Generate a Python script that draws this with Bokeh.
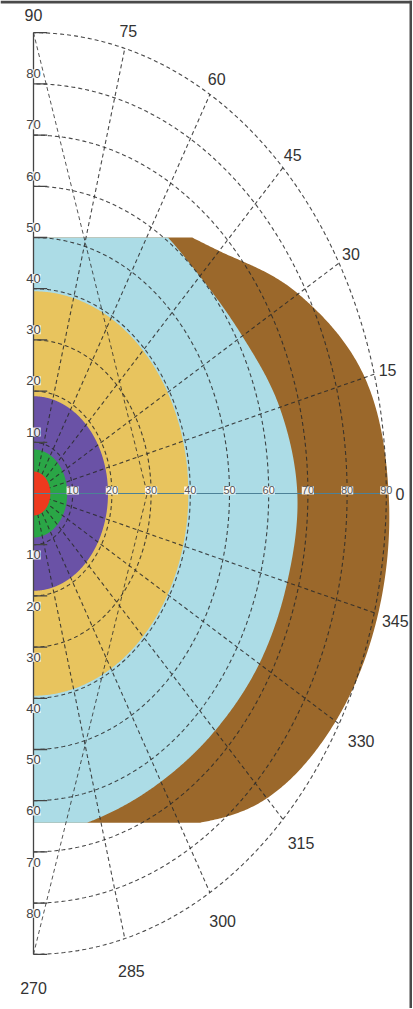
import numpy as np
from bokeh.plotting import figure
from bokeh.models import ColumnDataSource, LabelSet, Range1d, BoxAnnotation
from bokeh.core.properties import value
from bokeh.embed import file_html
from bokeh.resources import INLINE

# ---------------- data ----------------
ring_values = [10, 20, 30, 40, 50, 60, 70, 80, 90]
spoke_angles = [-75, -60, -45, -30, -15, 15, 30, 45, 60, 75]
label_angles = [-90, -75, -60, -45, -30, -15, 0, 15, 30, 45, 60, 75, 90]
angle_labels = ["270", "285", "300", "315", "330", "345", "0", "15", "30", "45", "60", "75", "90"]
axis_tick_labels = ["10", "20", "30", "40", "50", "60", "70", "80"]
zero_axis_labels = ["10", "20", "30", "40", "50", "60", "70", "80", "90"]

# circular zones (radius)
red_r = 4.3
green_r = 8.6
purple_r = 19.0
yellow_r = 39.5

# irregular zones: radius read at every 15 degrees, from 270 (-90) to 90
profile_angles = [-90, -75, -60, -45, -30, -15, 0, 15, 30, 45, 60, 75, 90]
blue_r = [67.0, 65.5, 65.0, 65.5, 66.5, 67.0, 67.3, 65.0, 61.5, 60.0, 61.0, 62.0, 62.0]
brown_r = [66.0, 68.0, 75.0, 84.2, 89.0, 91.0, 90.6, 87.5, 78.0, 67.0, 62.0, 62.0, 62.0]
zone_top = 50.0
zone_bottom = -64.3
pole_line_meet = 29.0

colors = {"red": "#ee3a1e", "green": "#2aa646", "purple": "#6a52a6",
          "yellow": "#e8c45e", "blue": "#acdce6", "brown": "#9b682b"}

# ---------------- geometry helpers ----------------
t = np.linspace(-90, 90, 721)
tr = np.radians(t)


def smooth(angles, radii):
    """Catmull-Rom curve through the read radii (drawing only)."""
    a = np.asarray(angles, float)
    r = np.asarray(radii, float)
    re = np.concatenate([[2 * r[0] - r[1]], r, [2 * r[-1] - r[-2]]])
    out = np.empty_like(t)
    for k, tv in enumerate(t):
        i = min(int(np.searchsorted(a, tv, side="right")) - 1, len(a) - 2)
        i = max(i, 0)
        u = (tv - a[i]) / (a[i + 1] - a[i])
        p0, p1, p2, p3 = re[i], re[i + 1], re[i + 2], re[i + 3]
        out[k] = 0.5 * (2 * p1 + (-p0 + p2) * u + (2 * p0 - 5 * p1 + 4 * p2 - p3) * u ** 2
                        + (-p0 + 3 * p1 - 3 * p2 + p3) * u ** 3)
    return out


def zone(angles, radii, top=None, bottom=None):
    r = smooth(angles, radii)
    x = r * np.cos(tr)
    y = r * np.sin(tr)
    if top is not None:
        y = np.minimum(y, top)
    if bottom is not None:
        y = np.maximum(y, bottom)
    return list(x), list(y)


def half_circle(r):
    return list(r * np.cos(tr)), list(r * np.sin(tr))


# ---------------- figure ----------------
W, H = 412, 1008
cx, cy = 33, 493          # pixel position of the pole
sx, sy = 3.92, 5.12       # pixels per unit
x0 = -cx / sx
x1 = x0 + W / sx
y1 = cy / sy
y0 = y1 - H / sy
p = figure(width=W, height=H,
           x_range=Range1d(x0, x1), y_range=Range1d(y0, y1),
           output_backend="svg", toolbar_location=None, min_border=0,
           x_axis_type=None, y_axis_type=None)
p.grid.visible = False
p.outline_line_color = None
p.background_fill_color = "white"
p.border_fill_color = "white"

zs_x, zs_y, zs_c = [], [], []
for key, shape in [("brown", zone(profile_angles, brown_r, zone_top, zone_bottom)),
                   ("blue", zone(profile_angles, blue_r, zone_top, zone_bottom)),
                   ("yellow", half_circle(yellow_r)),
                   ("purple", half_circle(purple_r)),
                   ("green", half_circle(green_r))]:
    zs_x.append(shape[0])
    zs_y.append(shape[1])
    zs_c.append(colors[key])
p.patches(zs_x, zs_y, fill_color=zs_c, line_color=None)

# rings
ring_xs, ring_ys = [], []
for rv in ring_values:
    xs, ys = half_circle(rv)
    ring_xs.append(xs)
    ring_ys.append(ys)
p.multi_line(ring_xs, ring_ys, line_color="#2a2a2a", line_width=1.1,
             line_dash="4 3", line_alpha=0.85)

# spokes
sp_xs = [[0, 90 * np.cos(np.radians(a))] for a in spoke_angles]
sp_ys = [[0, 90 * np.sin(np.radians(a))] for a in spoke_angles]
p.multi_line(sp_xs, sp_ys, line_color="#2a2a2a", line_width=1.1,
             line_dash="4 3", line_alpha=0.85)

# lines from the poles
p.multi_line([[0, pole_line_meet], [0, pole_line_meet]], [[90, 0], [-90, 0]],
             line_color="#2a2a2a", line_width=1.0, line_dash="4 3", line_alpha=0.8)

# innermost red zone drawn over the grid
rx, ry = half_circle(red_r)
p.patch(rx, ry, fill_color=colors["red"], line_color=None)

# zero axis
p.line([0, 90], [0, 0], line_color="#4d8197", line_width=1.2)

# vertical axis + ticks
p.line([0, 0], [-90, 90], line_color="#444444", line_width=1.3)
tick_y = [v for v in ring_values] + [-v for v in ring_values]
p.multi_line([[0, 3.5] for _ in tick_y], [[v, v] for v in tick_y],
             line_color="#444444", line_width=1.3)

# ---------------- labels ----------------
la = np.radians(label_angles)
lr = [93.5 if a >= 0 else 96.5 for a in label_angles]
x_limit = 92.3   # keep the lower labels clear of the right edge
lx = []
for r, a, deg in zip(lr, la, label_angles):
    xv = r * np.cos(a)
    if deg < 0:
        xv = min(xv, x_limit)
    lx.append(xv)
ang_src = ColumnDataSource(dict(x=lx,
                                y=[r * np.sin(a) for r, a in zip(lr, la)],
                                text=angle_labels))
p.add_layout(LabelSet(x="x", y="y", text="text", source=ang_src,
                      text_align="center", text_baseline="middle",
                      text_font=value("Liberation Sans"), text_font_size="16px",
                      text_color="#333333"))

tick_vals = [int(s) for s in axis_tick_labels]
ax_src = ColumnDataSource(dict(
    x=[0.0] * (2 * len(tick_vals)),
    y=[v + 2.0 for v in tick_vals] + [-(v + 2.0) for v in tick_vals],
    text=axis_tick_labels + axis_tick_labels))
p.add_layout(LabelSet(x="x", y="y", text="text", source=ax_src,
                      text_align="center", text_baseline="middle",
                      text_font=value("Liberation Sans"), text_font_size="13px",
                      text_color="#444444", background_fill_color="white",
                      background_fill_alpha=0.85))

z_src = ColumnDataSource(dict(x=[float(s) for s in zero_axis_labels],
                              y=[0.6] * len(zero_axis_labels),
                              text=zero_axis_labels))
p.add_layout(LabelSet(x="x", y="y", text="text", source=z_src,
                      text_align="center", text_baseline="middle",
                      text_font=value("Liberation Sans"), text_font_size="11px",
                      text_color="#555555", background_fill_color="white",
                      background_fill_alpha=0.9))

# thin dark frame strips seen at the top and right edge of the picture
p.add_layout(BoxAnnotation(left=x0, right=x1, top=y1, bottom=y1 - 3 / sy,
                           fill_color="#4a4a4a", fill_alpha=1, line_color=None))
p.add_layout(BoxAnnotation(left=x1 - 3 / sx, right=x1, top=y1, bottom=y0,
                           fill_color="#4a4a4a", fill_alpha=1, line_color=None))

open("out.html", "w").write(file_html(p, INLINE))
